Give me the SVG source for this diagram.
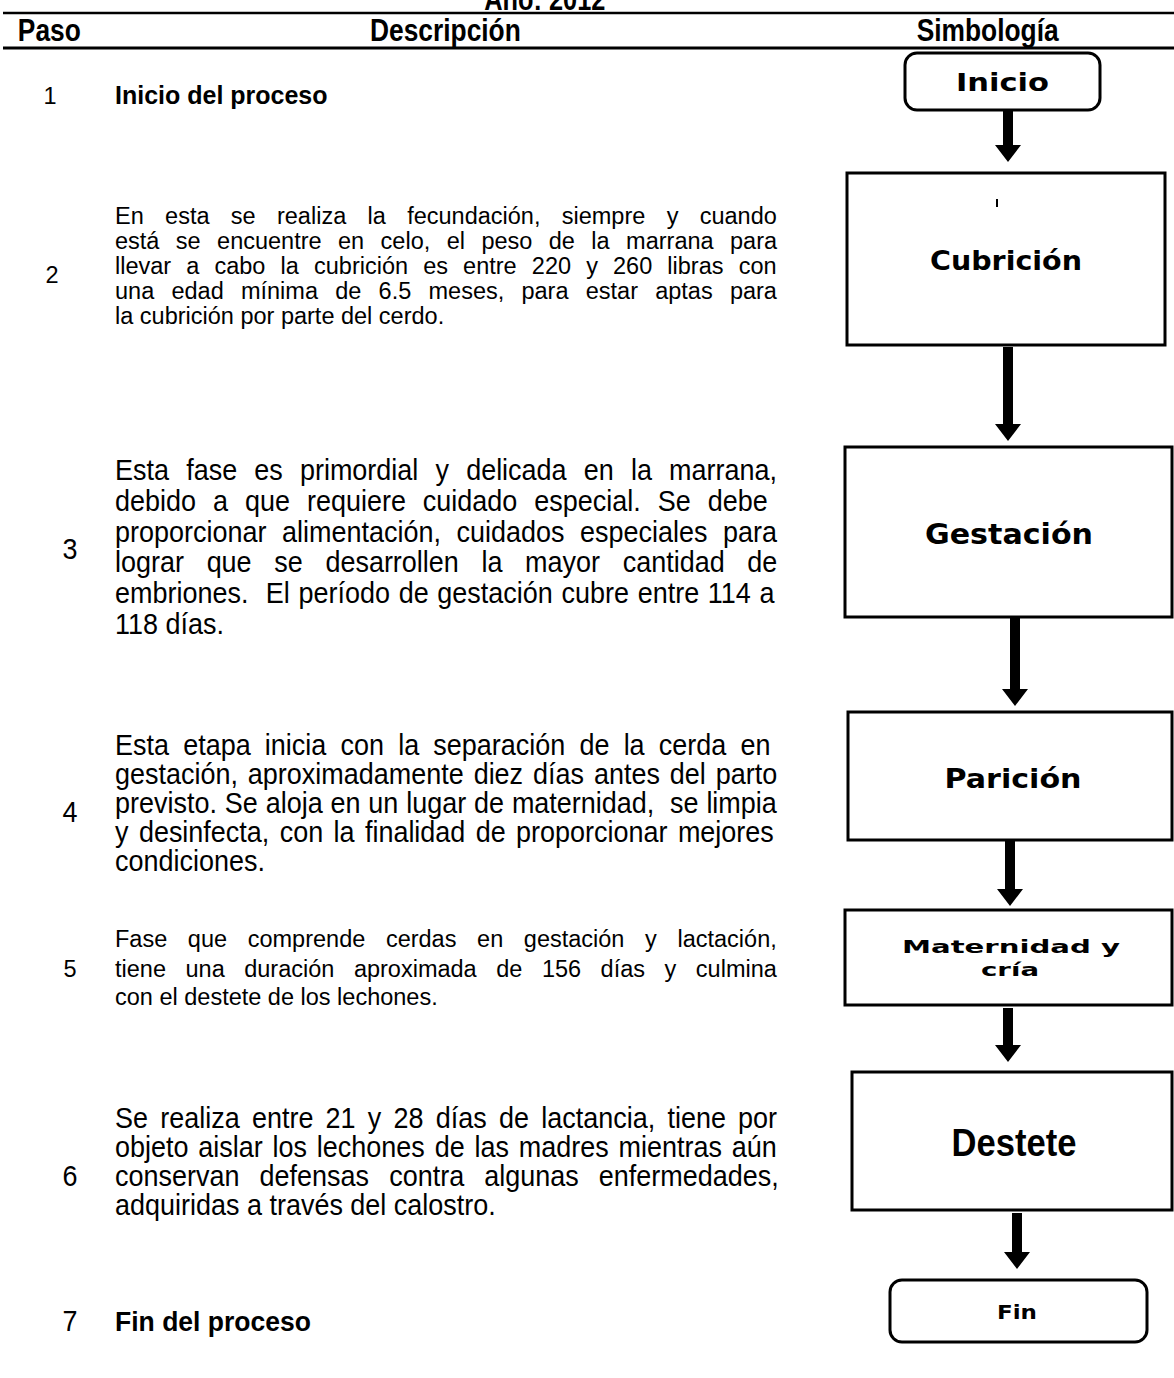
<svg xmlns="http://www.w3.org/2000/svg" width="1174" height="1378" viewBox="0 0 1174 1378">
<style>
.t{font-family:"Liberation Sans",Arial,Helvetica,sans-serif;fill:#000}
.reg{font-size:23.5px}
.nar{font-size:29px}
.b{font-weight:bold}
.pre{white-space:pre}
.box{fill:#fff;stroke:#000;stroke-width:3}
.lbl{font-family:"DejaVu Sans",Verdana,sans-serif;font-weight:bold;text-anchor:middle;fill:#000}
.arr{fill:#000}
.rule{stroke:#000}
</style>
<rect width="1174" height="1378" fill="#fff"/>

<g id="header">
  <text class="t b" transform="scale(0.818,1)" x="666" y="10" text-anchor="middle" font-size="31">Año: 2012</text>
  <line class="rule" x1="3" y1="13" x2="1174" y2="13" stroke-width="2.5"/>
  <line class="rule" x1="3" y1="48" x2="1174" y2="48" stroke-width="3"/>
  <g transform="scale(0.85,1)">
    <text class="t b" x="21" y="41" font-size="31">Paso</text>
    <text class="t b" x="524" y="41" font-size="31" text-anchor="middle">Descripción</text>
    <text class="t b" x="1162" y="41" font-size="31" text-anchor="middle">Simbología</text>
  </g>
</g>

<g id="row1">
  <text class="t reg" x="50" y="104" text-anchor="middle">1</text>
  <text class="t b" x="115" y="104" font-size="25">Inicio del proceso</text>
</g>

<g id="row2">
  <text class="t reg" x="52" y="283" text-anchor="middle">2</text>
  <text class="t reg" x="115" y="224" word-spacing="14.8">En esta se realiza la fecundación, siempre y cuando</text>
  <text class="t reg" x="115" y="249" word-spacing="9.9">está se encuentre en celo, el peso de la marrana para</text>
  <text class="t reg" x="115" y="274" word-spacing="8.6">llevar a cabo la cubrición es entre 220 y 260 libras con</text>
  <text class="t reg" x="115" y="299" word-spacing="10.7">una edad mínima de 6.5 meses, para estar aptas para</text>
  <text class="t reg" x="115" y="324">la cubrición por parte del cerdo.</text>
</g>

<g id="row3" transform="scale(0.93,1)">
  <text class="t nar" x="75.3" y="559" text-anchor="middle">3</text>
  <text class="t nar" x="123.7" y="480" word-spacing="10.4">Esta fase es primordial y delicada en la marrana,</text>
  <text class="t nar" x="123.7" y="511" word-spacing="10.2">debido a que requiere cuidado especial. Se debe</text>
  <text class="t nar" x="123.7" y="542" word-spacing="8.7">proporcionar alimentación, cuidados especiales para</text>
  <text class="t nar" x="123.7" y="572" word-spacing="16.3">lograr que se desarrollen la mayor cantidad de</text>
  <text class="t nar pre" x="123.7" y="603" word-spacing="1.3">embriones.  El período de gestación cubre entre 114 a</text>
  <text class="t nar" x="123.7" y="634">118 días.</text>
</g>

<g id="row4" transform="scale(0.93,1)">
  <text class="t nar" x="75.3" y="822" text-anchor="middle">4</text>
  <text class="t nar" x="123.7" y="755" word-spacing="7.2">Esta etapa inicia con la separación de la cerda en</text>
  <text class="t nar" x="123.7" y="784" word-spacing="2.6">gestación, aproximadamente diez días antes del parto</text>
  <text class="t nar pre" x="123.7" y="813" word-spacing="0.4">previsto. Se aloja en un lugar de maternidad,  se limpia</text>
  <text class="t nar" x="123.7" y="842" word-spacing="3.1">y desinfecta, con la finalidad de proporcionar mejores</text>
  <text class="t nar" x="123.7" y="871">condiciones.</text>
</g>

<g id="row5">
  <text class="t reg" x="70" y="977" text-anchor="middle">5</text>
  <text class="t reg" x="115" y="947" word-spacing="14.1">Fase que comprende cerdas en gestación y lactación,</text>
  <text class="t reg" x="115" y="977" word-spacing="13.0">tiene una duración aproximada de 156 días y culmina</text>
  <text class="t reg" x="115" y="1005">con el destete de los lechones.</text>
</g>

<g id="row6" transform="scale(0.93,1)">
  <text class="t nar" x="75.3" y="1186" text-anchor="middle">6</text>
  <text class="t nar" x="123.7" y="1128" word-spacing="5.1">Se realiza entre 21 y 28 días de lactancia, tiene por</text>
  <text class="t nar" x="123.7" y="1157" word-spacing="2.5">objeto aislar los lechones de las madres mientras aún</text>
  <text class="t nar" x="123.7" y="1186" word-spacing="13.6">conservan defensas contra algunas enfermedades,</text>
  <text class="t nar" x="123.7" y="1215">adquiridas a través del calostro.</text>
</g>

<g id="row7" transform="scale(0.93,1)">
  <text class="t nar" x="75.3" y="1331" text-anchor="middle">7</text>
  <text class="t b" x="123.7" y="1331" font-size="28.5">Fin del proceso</text>
</g>

<g id="connectors">
  <path class="arr" d="M1003 110 H1013 V145 H1021 L1008 162 L995 145 H1003 Z"/>
  <path class="arr" d="M1003 347 H1013 V424 H1021 L1008 441 L995 424 H1003 Z"/>
  <path class="arr" d="M1010 616 H1020 V689 H1028 L1015 706 L1002 689 H1010 Z"/>
  <path class="arr" d="M1005 840 H1015 V889 H1023 L1010 906 L997 889 H1005 Z"/>
  <path class="arr" d="M1003 1008 H1013 V1045 H1021 L1008 1062 L995 1045 H1003 Z"/>
  <path class="arr" d="M1012 1213 H1022 V1252 H1030 L1017 1269 L1004 1252 H1012 Z"/>
</g>

<g id="node-inicio">
  <rect class="box" x="905" y="53" width="195" height="57" rx="12"/>
  <text class="lbl" x="1002.5" y="91" font-size="24" textLength="93" lengthAdjust="spacingAndGlyphs">Inicio</text>
</g>
<g id="node-cubricion">
  <rect class="box" x="847" y="173" width="318" height="172"/>
  <rect x="996" y="199" width="2" height="8" fill="#000"/>
  <text class="lbl" x="1006" y="270" font-size="27" textLength="152" lengthAdjust="spacingAndGlyphs">Cubrición</text>
</g>
<g id="node-gestacion">
  <rect class="box" x="845" y="447" width="327" height="170"/>
  <text class="lbl" x="1009" y="544" font-size="29" textLength="168" lengthAdjust="spacingAndGlyphs">Gestación</text>
</g>
<g id="node-paricion">
  <rect class="box" x="848" y="712" width="324" height="128"/>
  <text class="lbl" x="1013" y="788" font-size="27" textLength="137" lengthAdjust="spacingAndGlyphs">Parición</text>
</g>
<g id="node-maternidad">
  <rect class="box" x="845" y="910" width="327" height="95"/>
  <text class="lbl" x="1011" y="953" font-size="18" textLength="218" lengthAdjust="spacingAndGlyphs">Maternidad y</text>
  <text class="lbl" x="1010" y="976" font-size="18" textLength="58" lengthAdjust="spacingAndGlyphs">cría</text>
</g>
<g id="node-destete">
  <rect class="box" x="852" y="1072" width="320" height="138"/>
  <text class="t b" x="1014" y="1156" font-size="38" text-anchor="middle" textLength="125" lengthAdjust="spacingAndGlyphs">Destete</text>
</g>
<g id="node-fin">
  <rect class="box" x="890" y="1280" width="257" height="62" rx="12"/>
  <text class="lbl" x="1017" y="1319" font-size="20" textLength="40" lengthAdjust="spacingAndGlyphs">Fin</text>
</g>
</svg>
